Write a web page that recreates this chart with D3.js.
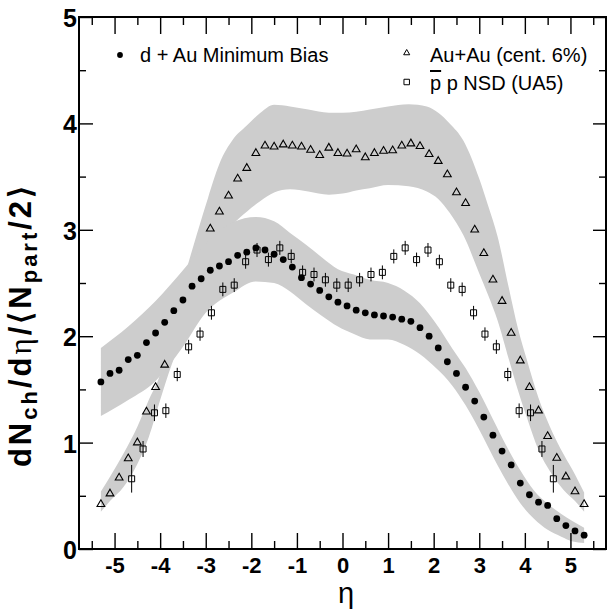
<!DOCTYPE html>
<html>
<head>
<meta charset="utf-8">
<script src="https://cdn.jsdelivr.net/npm/d3@7"></script>
<style>
  body { margin: 0; background: #fff; }
  svg { display: block; }
  text { font-family: "Liberation Sans", Arial, Helvetica, sans-serif; }
</style>
</head>
<body>
<div id="chart"></div>
<script>
// d+Au minimum bias points
const dAuEta = [-5.3,-5.1,-4.9,-4.7,-4.5,-4.3,-4.1,-3.9,-3.7,-3.5,-3.3,-3.1,-2.9,-2.7,-2.5,-2.3,-2.1,-1.9,-1.7,-1.5,-1.3,-1.1,-0.9,-0.7,-0.5,-0.3,-0.1,
                0.1,0.3,0.5,0.7,0.9,1.1,1.3,1.5,1.7,1.9,2.1,2.3,2.5,2.7,2.9,3.1,3.3,3.5,3.7,3.9,4.1,4.3,4.5,4.7,4.9,5.1,5.3];
const dAuVal = [1.57,1.65,1.68,1.78,1.82,1.94,2.03,2.13,2.24,2.34,2.47,2.54,2.62,2.66,2.70,2.76,2.79,2.83,2.81,2.77,2.72,2.65,2.55,2.49,2.43,2.37,2.32,
                2.285,2.245,2.22,2.20,2.19,2.18,2.16,2.14,2.08,2.00,1.89,1.76,1.65,1.52,1.39,1.24,1.07,0.92,0.79,0.62,0.51,0.44,0.41,0.285,0.22,0.17,0.13];

// Au+Au (cent. 6%) points
const auEta = [-5.3,-5.1,-4.9,-4.7,-4.5,-4.3,-4.1,-3.9,-2.9,-2.7,-2.5,-2.3,-2.1,-1.9,-1.7,-1.5,-1.3,-1.1,-0.9,-0.7,-0.5,-0.3,-0.1,
               0.1,0.3,0.5,0.7,0.9,1.1,1.3,1.5,1.7,1.9,2.1,2.3,2.5,2.7,2.9,3.1,3.3,3.5,3.7,3.9,4.1,4.3,4.5,4.7,4.9,5.1,5.3];
const auVal = [0.42,0.52,0.67,0.85,1.00,1.29,1.52,1.73,3.01,3.17,3.32,3.48,3.58,3.72,3.79,3.78,3.80,3.79,3.78,3.75,3.70,3.77,3.72,
               3.715,3.755,3.68,3.72,3.74,3.745,3.79,3.81,3.785,3.71,3.645,3.52,3.35,3.25,3.00,2.78,2.53,2.33,2.03,1.77,1.52,1.30,1.06,0.855,0.68,0.54,0.42];

// pbar p NSD (UA5) points
const ua5Eta = [-4.625,-4.375,-4.125,-3.875,-3.625,-3.375,-3.125,-2.875,-2.625,-2.375,-2.125,-1.875,-1.625,-1.375,-1.125,-0.875,-0.625,-0.375,-0.125,
                0.125,0.375,0.625,0.875,1.125,1.375,1.625,1.875,2.125,2.375,2.625,2.875,3.125,3.375,3.625,3.875,4.125,4.375,4.625];
const ua5Val = [0.66,0.94,1.28,1.30,1.64,1.90,2.02,2.22,2.44,2.48,2.70,2.81,2.72,2.83,2.75,2.60,2.58,2.53,2.48,
                2.48,2.53,2.58,2.60,2.75,2.83,2.72,2.81,2.70,2.48,2.44,2.22,2.02,1.90,1.64,1.30,1.28,0.94,0.66];
const ua5Err = [0.13,0.075,0.078,0.068,0.063,0.066,0.063,0.065,0.065,0.065,0.066,0.066,0.066,0.066,0.066,0.065,0.065,0.065,0.065,
                0.065,0.065,0.065,0.065,0.066,0.066,0.066,0.066,0.066,0.065,0.065,0.065,0.063,0.066,0.063,0.068,0.078,0.075,0.13];

// systematic error bands (grey)
const dAuBandEta = [-5.3,-4.7,-4.1,-3.5,-3.0,-2.4,-1.9,-1.5,-1.15,-0.8,-0.45,-0.1,0.25,0.6,1.0,1.35,1.7,2.05,2.4,2.7,3.0,3.3,3.6,3.9,4.2,4.5,4.8,5.05,5.3];
const dAuBandHi  = [1.89,2.09,2.33,2.62,2.87,3.07,3.12,3.08,2.97,2.86,2.74,2.63,2.58,2.53,2.50,2.43,2.31,2.12,1.89,1.70,1.475,1.22,0.965,0.74,0.55,0.425,0.33,0.26,0.20];
const dAuBandLo  = [1.25,1.40,1.58,1.90,2.22,2.41,2.515,2.50,2.42,2.30,2.19,2.09,2.02,1.97,1.97,1.92,1.83,1.70,1.54,1.35,1.12,0.87,0.635,0.43,0.285,0.18,0.115,0.07,0.056];

const auBandEta = [-5.3,-5.1,-4.8,-4.5,-4.25,-4.0,-3.75,-3.45,-3.2,-2.95,-2.7,-2.4,-2.1,-1.8,-1.5,-1.15,-0.75,-0.3,0,0.3,0.6,1.0,1.45,1.85,2.1,2.35,2.65,3.0,3.2,3.4,3.65,3.85,4.05,4.3,4.55,4.85,5.1,5.3];
const auBandHi  = [0.54,0.68,0.90,1.15,1.40,1.64,2.05,2.58,2.95,3.30,3.62,3.85,3.98,4.10,4.175,4.16,4.13,4.10,4.10,4.11,4.13,4.16,4.18,4.16,4.10,4.00,3.84,3.48,3.22,2.94,2.45,2.07,1.77,1.42,1.15,0.89,0.70,0.53];
const auBandLo  = [0.35,0.45,0.585,0.80,1.05,1.40,1.73,2.06,2.36,2.62,2.85,3.05,3.17,3.27,3.35,3.38,3.36,3.33,3.34,3.37,3.39,3.42,3.41,3.36,3.29,3.16,2.95,2.59,2.38,2.15,1.78,1.49,1.23,0.93,0.73,0.555,0.45,0.35];

// ticks
const xMajorTicks = [-5,-4,-3,-2,-1,0,1,2,3,4,5];
const xMinorTicks = [-5.5,-4.5,-3.5,-2.5,-1.5,-0.5,0.5,1.5,2.5,3.5,4.5,5.5];
const yMajorTicks = [0,1,2,3,4,5];
const yMinorTicks = [0.5,1.5,2.5,3.5,4.5];

const width = 608;
const height = 610;
const svg = d3.select('#chart').append('svg')
    .attr('width', width)
    .attr('height', height);

const x = d3.scaleLinear().domain([-5.78, 5.78]).range([79, 606]);
const y = d3.scaleLinear().domain([0, 5]).range([549, 17]);

// bands
const area = d3.area()
    .x(d => x(d.e))
    .y0(d => y(d.lo))
    .y1(d => y(d.hi))
    .curve(d3.curveMonotoneX);

const auBand = auBandEta.map((e, i) => ({ e: e, lo: auBandLo[i], hi: auBandHi[i] }));
const dAuBand = dAuBandEta.map((e, i) => ({ e: e, lo: dAuBandLo[i], hi: dAuBandHi[i] }));

svg.append('path').datum(auBand).attr('d', area).attr('fill', '#cdcdcd');
svg.append('path').datum(dAuBand).attr('d', area).attr('fill', '#cdcdcd');

// Au+Au open triangles
svg.append('g').selectAll('path')
    .data(auEta)
    .join('path')
    .attr('transform', (d, i) => `translate(${x(d)},${y(auVal[i])})`)
    .attr('d', d3.symbol(d3.symbolTriangle, 26))
    .attr('fill', 'none')
    .attr('stroke', '#000')
    .attr('stroke-width', 1.1);

// d+Au dots
svg.append('g').selectAll('circle')
    .data(dAuEta)
    .join('circle')
    .attr('cx', d => x(d))
    .attr('cy', (d, i) => y(dAuVal[i]))
    .attr('r', 3.4)
    .attr('fill', '#000');

// UA5 squares with error bars
const ua5 = svg.append('g');
ua5.selectAll('line')
    .data(ua5Eta)
    .join('line')
    .attr('x1', d => x(d))
    .attr('x2', d => x(d))
    .attr('y1', (d, i) => y(ua5Val[i] - ua5Err[i]))
    .attr('y2', (d, i) => y(ua5Val[i] + ua5Err[i]))
    .attr('stroke', '#000')
    .attr('stroke-width', 1);
ua5.selectAll('path')
    .data(ua5Eta)
    .join('path')
    .attr('transform', (d, i) => `translate(${x(d)},${y(ua5Val[i])})`)
    .attr('d', d3.symbol(d3.symbolSquare, 36))
    .attr('fill', 'none')
    .attr('stroke', '#000')
    .attr('stroke-width', 1);

// axes, ticks inside on all four sides
function styleAxis(g) {
    g.select('.domain').remove();
    g.selectAll('.tick line').attr('stroke', '#000').attr('stroke-width', 1.4);
}

svg.append('g').attr('transform', 'translate(0,549)')
    .call(d3.axisBottom(x).tickValues(xMajorTicks).tickSize(-16).tickPadding(8)
        .tickFormat(d => d < 0 ? '-' + Math.abs(d) : d))
    .call(styleAxis)
    .call(g => g.selectAll('text').attr('fill', '#000')
        .attr('font-size', 22).attr('font-weight', 'bold')
        .attr('font-family', '"Liberation Sans", Arial, sans-serif'));
svg.append('g').attr('transform', 'translate(0,549)')
    .call(d3.axisBottom(x).tickValues(xMinorTicks).tickSize(-8).tickFormat(''))
    .call(styleAxis);

svg.append('g').attr('transform', 'translate(0,17)')
    .call(d3.axisTop(x).tickValues(xMajorTicks).tickSize(-17).tickFormat(''))
    .call(styleAxis);
svg.append('g').attr('transform', 'translate(0,17)')
    .call(d3.axisTop(x).tickValues(xMinorTicks).tickSize(-8).tickFormat(''))
    .call(styleAxis);

svg.append('g').attr('transform', 'translate(79,0)')
    .call(d3.axisLeft(y).tickValues(yMajorTicks).tickSize(-14).tickPadding(2).tickFormat(d3.format('d')))
    .call(styleAxis)
    .call(g => g.selectAll('text').attr('fill', '#000')
        .attr('font-size', 25).attr('font-weight', 'bold')
        .attr('font-family', '"Liberation Sans", Arial, sans-serif')
        .attr('dy', '0.38em'));
svg.append('g').attr('transform', 'translate(79,0)')
    .call(d3.axisLeft(y).tickValues(yMinorTicks).tickSize(-7).tickFormat(''))
    .call(styleAxis);

svg.append('g').attr('transform', 'translate(606,0)')
    .call(d3.axisRight(y).tickValues(yMajorTicks).tickSize(-13).tickFormat(''))
    .call(styleAxis);
svg.append('g').attr('transform', 'translate(606,0)')
    .call(d3.axisRight(y).tickValues(yMinorTicks).tickSize(-7).tickFormat(''))
    .call(styleAxis);

// frame
svg.append('rect')
    .attr('x', 79).attr('y', 17)
    .attr('width', 606 - 79).attr('height', 549 - 17)
    .attr('fill', 'none')
    .attr('stroke', '#000')
    .attr('stroke-width', 2);

// x title
svg.append('text')
    .attr('x', 346).attr('y', 603)
    .attr('text-anchor', 'middle')
    .attr('font-family', '"Liberation Serif", "DejaVu Serif", serif')
    .attr('font-size', 29)
    .text('η');

// y title
const yTitle = svg.append('text')
    .attr('transform', 'translate(31,325) rotate(-90)')
    .attr('text-anchor', 'middle')
    .attr('font-weight', 'bold')
    .attr('font-size', 31)
    .attr('letter-spacing', 3);
yTitle.append('tspan').text('dN');
yTitle.append('tspan').attr('font-size', 22).attr('dy', 6).text('ch');
yTitle.append('tspan').attr('dy', -6).text('/d');
yTitle.append('tspan').attr('font-family', '"Liberation Serif", "DejaVu Serif", serif').attr('font-weight', 'normal').text('η');
yTitle.append('tspan').text('/⟨N');
yTitle.append('tspan').attr('font-size', 22).attr('dy', 6).text('part');
yTitle.append('tspan').attr('dy', -6).text('/2⟩');

// legend
const legend = svg.append('g');
legend.append('circle').attr('cx', 120).attr('cy', 55).attr('r', 2.9).attr('fill', '#000');
legend.append('text').attr('x', 140).attr('y', 62).attr('font-size', 20).text('d + Au Minimum Bias');

legend.append('path')
    .attr('transform', 'translate(406.7,53)')
    .attr('d', d3.symbol(d3.symbolTriangle, 16))
    .attr('fill', 'none').attr('stroke', '#000').attr('stroke-width', 1);
legend.append('text').attr('x', 430).attr('y', 62).attr('font-size', 20).text('Au+Au (cent. 6%)');

legend.append('path')
    .attr('transform', 'translate(406.7,82)')
    .attr('d', d3.symbol(d3.symbolSquare, 30))
    .attr('fill', 'none').attr('stroke', '#000').attr('stroke-width', 1);
const ppText = legend.append('text').attr('x', 430).attr('y', 90).attr('font-size', 20);
ppText.append('tspan').style('text-decoration', 'overline').text('p');
ppText.append('tspan').text(' p NSD (UA5)');
</script>
</body>
</html>
